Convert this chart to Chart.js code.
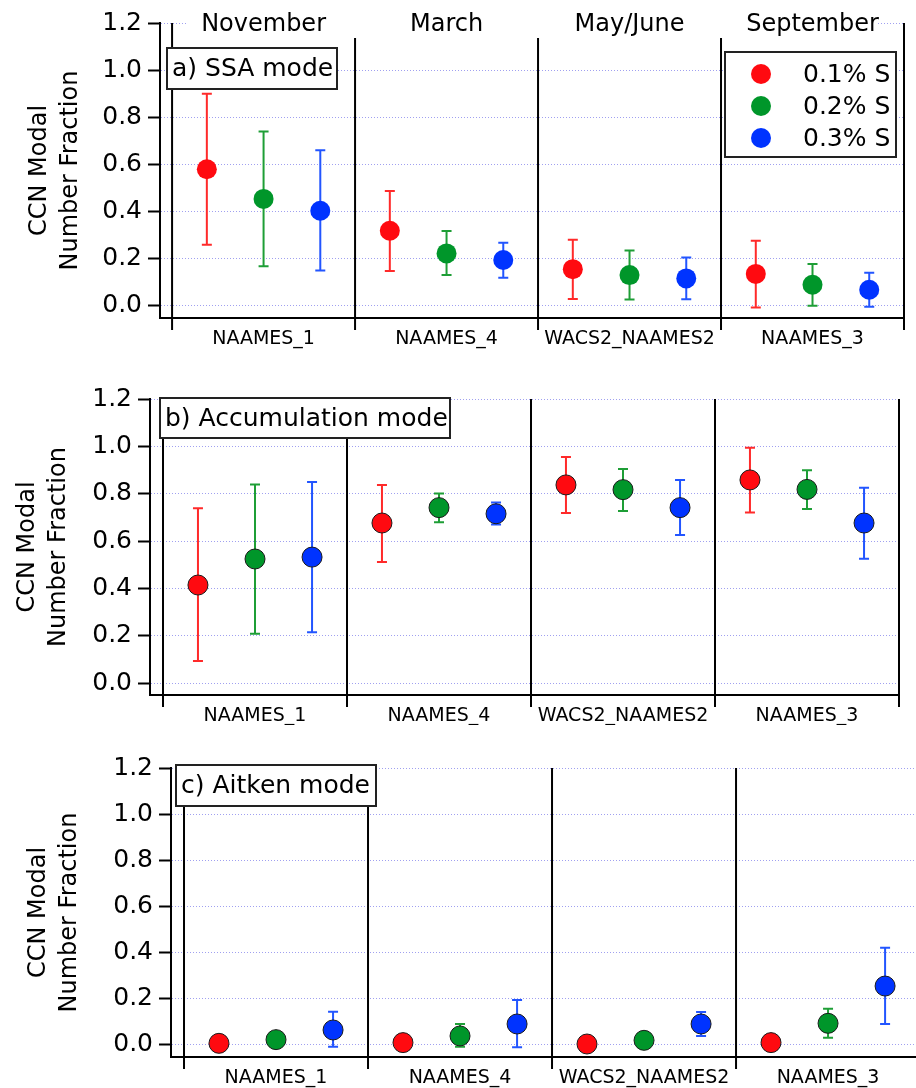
<!DOCTYPE html>
<html>
<head>
<meta charset="utf-8">
<script src="https://cdn.jsdelivr.net/npm/chart.js@4.4.1/dist/chart.umd.min.js"></script>
<style>
  html, body { margin: 0; padding: 0; background: #fff; }
  #wrap { position: relative; width: 916px; height: 1088px; overflow: hidden; }
  canvas { position: absolute; left: 0; }
</style>
</head>
<body>
<div id="wrap">
  <canvas id="ssaChart" width="916" height="355" style="top:0"></canvas>
  <canvas id="accChart" width="916" height="370" style="top:355px"></canvas>
  <canvas id="aitChart" width="916" height="363" style="top:725px"></canvas>
</div>
<script>
const groups = ['NAAMES_1', 'NAAMES_4', 'WACS2_NAAMES2', 'NAAMES_3'];
const months = ['November', 'March', 'May/June', 'September'];
const supersat = ['0.1% S', '0.2% S', '0.3% S'];
const yTicks = [0, 0.2, 0.4, 0.6, 0.8, 1.0, 1.2];

// rows: 0.1%, 0.2%, 0.3% S ; columns follow groups
const ssaMid = [[0.58, 0.319, 0.156, 0.136], [0.454, 0.223, 0.131, 0.09], [0.404, 0.195, 0.117, 0.069]];
const ssaLo = [[0.26, 0.148, 0.03, -0.007], [0.168, 0.131, 0.027, 0.001], [0.15, 0.12, 0.028, -0.003]];
const ssaHi = [[0.90, 0.488, 0.281, 0.277], [0.74, 0.318, 0.235, 0.178], [0.66, 0.268, 0.206, 0.141]];

const accMid = [[0.414, 0.676, 0.837, 0.858], [0.524, 0.741, 0.817, 0.818], [0.532, 0.715, 0.741, 0.676]];
const accLo = [[0.093, 0.511, 0.718, 0.72], [0.208, 0.679, 0.727, 0.735], [0.214, 0.67, 0.625, 0.525]];
const accHi = [[0.738, 0.837, 0.955, 0.994], [0.839, 0.801, 0.904, 0.899], [0.849, 0.763, 0.858, 0.825]];

const aitMid = [[0.003, 0.006, 0.0, 0.006], [0.019, 0.035, 0.016, 0.09], [0.061, 0.087, 0.087, 0.252]];
const aitLo = [[null, null, null, null], [null, -0.012, null, 0.027], [-0.012, -0.014, 0.035, 0.087]];
const aitHi = [[null, null, null, null], [null, 0.087, null, 0.153], [0.14, 0.191, 0.139, 0.419]];

const markerColors = ['#ff0a10', '#00962a', '#0033ff'];
const barColors = ['#ff2a2a', '#1e9e36', '#2255ff'];
const slotOffset = [0.19, 0.5, 0.81];
const FONT = '"DejaVu Sans", Verdana, sans-serif';

function buildDatasets(mid, lo, hi, outline) {
  return supersat.map((name, s) => ({
    label: name,
    data: mid[s].map((v, g) => ({ x: g + slotOffset[s], y: v })),
    errLo: lo[s],
    errHi: hi[s],
    barColor: barColors[s],
    backgroundColor: markerColors[s],
    borderColor: outline ? '#1a1a1a' : markerColors[s],
    pointBorderWidth: outline ? 1 : 0,
    pointRadius: 10,
    pointHoverRadius: 10
  }));
}

const errorBars = {
  id: 'errorBars',
  beforeDatasetsDraw(chart) {
    const { ctx, scales: { y } } = chart;
    ctx.save();
    ctx.lineWidth = 2;
    chart.data.datasets.forEach((ds, i) => {
      const meta = chart.getDatasetMeta(i);
      ctx.strokeStyle = ds.barColor;
      meta.data.forEach((pt, j) => {
        const lo = ds.errLo[j], hi = ds.errHi[j];
        if (lo == null || hi == null) return;
        const yLo = y.getPixelForValue(lo), yHi = y.getPixelForValue(hi);
        ctx.beginPath();
        ctx.moveTo(pt.x, yLo); ctx.lineTo(pt.x, yHi);
        ctx.moveTo(pt.x - 5, yLo); ctx.lineTo(pt.x + 5, yLo);
        ctx.moveTo(pt.x - 5, yHi); ctx.lineTo(pt.x + 5, yHi);
        ctx.stroke();
      });
    });
    ctx.restore();
  }
};

// separators, bottom axis, labels, boxes
const panelDecor = {
  id: 'panelDecor',
  beforeDatasetsDraw(chart, args, opts) {
    const { ctx, chartArea: a, scales: { x } } = chart;
    ctx.save();
    ctx.strokeStyle = '#000';
    ctx.lineWidth = 2;
    ctx.beginPath();
    ctx.moveTo(a.left - 1, a.bottom);
    ctx.lineTo(a.right, a.bottom);
    for (let g = 0; g <= groups.length; g++) {
      const px = x.getPixelForValue(g);
      if (px > a.right + 1) continue;
      const top = (opts.innerTop && g > 0 && g < groups.length) ? opts.innerTop : a.top;
      ctx.moveTo(px, top);
      ctx.lineTo(px, a.bottom + 12);
    }
    ctx.stroke();
    ctx.restore();
  },
  afterDraw(chart, args, opts) {
    const { ctx, chartArea: a, scales: { x } } = chart;
    ctx.save();
    ctx.fillStyle = '#000';
    ctx.textBaseline = 'middle';
    ctx.textAlign = 'center';
    ctx.font = '19px ' + FONT;
    groups.forEach((g, i) => ctx.fillText(g, x.getPixelForValue(i + 0.5), a.bottom + 21));

    if (opts.months) {
      ctx.fillStyle = '#fff';
      ctx.fillRect(188, a.top - 6, 690, 12);
      ctx.fillStyle = '#000';
      ctx.font = '24px ' + FONT;
      months.forEach((m, i) => ctx.fillText(m, x.getPixelForValue(i + 0.5), a.top + 2));
    }

    // y axis title
    ctx.save();
    ctx.font = '24px ' + FONT;
    const midY = (a.top + a.bottom) / 2;
    ['CCN Modal', 'Number Fraction'].forEach((t, i) => {
      ctx.save();
      ctx.translate(opts.axisX[i], midY);
      ctx.rotate(-Math.PI / 2);
      ctx.fillText(t, 0, 0);
      ctx.restore();
    });
    ctx.restore();

    // panel title box
    const [bx, by, bw, bh] = opts.box;
    ctx.fillStyle = '#fff';
    ctx.fillRect(bx, by, bw, bh);
    ctx.strokeStyle = '#222';
    ctx.lineWidth = 2;
    ctx.strokeRect(bx, by, bw, bh);
    ctx.fillStyle = '#000';
    ctx.textAlign = 'left';
    ctx.font = '25px ' + FONT;
    ctx.fillText(opts.title, bx + 5, by + bh / 2 + 1);

    if (opts.legend) {
      const [lx, ly, lw, lh] = opts.legend;
      ctx.fillStyle = '#fff';
      ctx.fillRect(lx, ly, lw, lh);
      ctx.strokeRect(lx, ly, lw, lh);
      supersat.forEach((s, i) => {
        const cy = ly + 22 + i * 32;
        ctx.fillStyle = markerColors[i];
        ctx.beginPath();
        ctx.arc(lx + 36, cy, 10, 0, Math.PI * 2);
        ctx.fill();
        ctx.fillStyle = '#000';
        ctx.fillText(s, lx + 78, cy + 1);
      });
    }
    ctx.restore();
  }
};

function makePanel(id, datasets, geo, decor) {
  const canvas = document.getElementById(id);
  return new Chart(canvas, {
    type: 'scatter',
    data: { datasets },
    plugins: [errorBars, panelDecor],
    options: {
      responsive: false,
      animation: false,
      events: [],
      layout: {
        autoPadding: false,
        padding: { left: 0, right: 916 - geo.right, top: geo.top, bottom: canvas.height - geo.bottom }
      },
      scales: {
        x: { type: 'linear', display: false, min: geo.xMin, max: geo.xMax },
        y: {
          type: 'linear',
          min: geo.yMin,
          max: 1.2,
          afterFit: (scale) => { scale.width = geo.left; },
          afterBuildTicks: (scale) => { scale.ticks = yTicks.map((v) => ({ value: v })); },
          ticks: {
            color: '#000',
            padding: 6,
            font: { family: FONT, size: 25 },
            callback: (v) => Number(v).toFixed(1)
          },
          grid: {
            color: '#a0a0f0',
            lineWidth: 1,
            tickLength: 12,
            tickColor: '#000',
            tickWidth: 2
          },
          border: { display: true, color: '#000', width: 2, dash: [1, 2] }
        }
      },
      plugins: {
        legend: { display: false },
        tooltip: { enabled: false },
        panelDecor: decor
      }
    }
  });
}

makePanel('ssaChart', buildDatasets(ssaMid, ssaLo, ssaHi, false),
  { left: 160, right: 904, top: 23, bottom: 318, xMin: -0.066, xMax: 4, yMin: -0.051 },
  { title: 'a) SSA mode', box: [167, 48, 170, 41], axisX: [40, 71], months: true, innerTop: 38, legend: [725, 52, 171, 105] });

makePanel('accChart', buildDatasets(accMid, accLo, accHi, true),
  { left: 150, right: 899, top: 44, bottom: 340, xMin: -0.0707, xMax: 4, yMin: -0.0507 },
  { title: 'b) Accumulation mode', box: [160, 43, 290, 40], axisX: [28, 59] });

makePanel('aitChart', buildDatasets(aitMid, aitLo, aitHi, true),
  { left: 171, right: 916, top: 43, bottom: 332, xMin: -0.0707, xMax: 3.978, yMin: -0.0565 },
  { title: 'c) Aitken mode', box: [176, 40, 200, 41], axisX: [39, 70] });
</script>
</body>
</html>
